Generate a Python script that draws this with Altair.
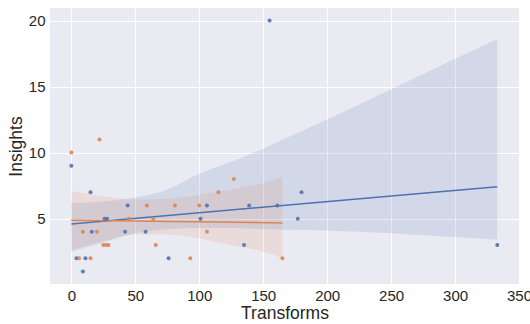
import altair as alt
import pandas as pd

# Scatter data
blue_x = [0, 15, 44, 26, 28, 16, 42, 58, 4, 11, 9, 76, 106, 101, 139, 161, 180, 177, 135, 155, 333]
blue_y = [9, 7, 6, 5, 5, 4, 4, 4, 2, 2, 1, 2, 6, 5, 6, 6, 7, 5, 3, 20, 3]
orange_x = [22, 0, 45, 9, 20, 25, 27, 29, 6, 15, 59, 81, 100, 115, 64, 106, 66, 93, 127, 165]
orange_y = [11, 10, 5, 4, 4, 3, 3, 3, 2, 2, 6, 6, 6, 7, 5, 4, 3, 2, 8, 2]

# Confidence band edges
blue_band_x = [0, 25, 50, 75, 100, 125, 150, 175, 200, 250, 300, 333]
blue_band_lo = [2.5, 3.2, 3.9, 4.2, 4.3, 4.3, 4.2, 4.15, 4.1, 3.9, 3.6, 3.4]
blue_band_hi = [6.2, 6.3, 6.6, 7.2, 8.4, 9.3, 10.3, 11.4, 12.5, 14.8, 17.1, 18.6]
orange_band_x = [0, 25, 50, 75, 100, 125, 150, 165]
orange_band_lo = [2.6, 3.3, 3.8, 3.8, 3.5, 3.0, 2.5, 2.0]
orange_band_hi = [7.1, 6.7, 6.45, 6.5, 6.8, 7.2, 7.7, 8.15]

x_ticks = [0, 50, 100, 150, 200, 250, 300, 350]
y_ticks = [5, 10, 15, 20]

series_names = ["blue", "orange"]
colors = ["#4C72B0", "#DD8452"]

pts = pd.DataFrame({
    "Transforms": blue_x + orange_x,
    "Insights": blue_y + orange_y,
    "s": ["blue"] * len(blue_x) + ["orange"] * len(orange_x),
})
band = pd.DataFrame({
    "Transforms": blue_band_x + orange_band_x,
    "lo": blue_band_lo + orange_band_lo,
    "hi": blue_band_hi + orange_band_hi,
    "s": ["blue"] * len(blue_band_x) + ["orange"] * len(orange_band_x),
})

FONT = "Liberation Sans"
xs = alt.Scale(domain=[-16.7, 350], nice=False, zero=False)
ys = alt.Scale(domain=[0.05, 20.95], nice=False, zero=False)
cs = alt.Scale(domain=series_names, range=colors)

x_axis = alt.Axis(values=x_ticks, title="Transforms", grid=True, gridColor="white", gridWidth=1,
                  domain=False, ticks=False, labelFontSize=15, titleFontSize=17.5,
                  labelColor="#262626", titleColor="#262626", labelFont=FONT, titleFont=FONT,
                  titleFontWeight="normal", labelPadding=4, titlePadding=1,
                  labelFlush=False, labelOverlap=False)
y_axis = alt.Axis(values=y_ticks, title="Insights", grid=True, gridColor="white", gridWidth=1,
                  domain=False, ticks=False, labelFontSize=15, titleFontSize=17.5,
                  labelColor="#262626", titleColor="#262626", labelFont=FONT, titleFont=FONT,
                  titleFontWeight="normal", labelPadding=5, titlePadding=3,
                  labelFlush=False, labelOverlap=False)

bands = alt.Chart(band).mark_area(opacity=0.15, interpolate="monotone").encode(
    x=alt.X("Transforms:Q", scale=xs, axis=x_axis),
    y=alt.Y("lo:Q", scale=ys, axis=y_axis),
    y2="hi:Q",
    color=alt.Color("s:N", scale=cs, legend=None),
    detail="s:N",
)

lines = alt.Chart(pts).transform_regression(
    "Transforms", "Insights", groupby=["s"]
).mark_line(strokeWidth=1.5).encode(
    x=alt.X("Transforms:Q", scale=xs),
    y=alt.Y("Insights:Q", scale=ys),
    color=alt.Color("s:N", scale=cs, legend=None),
)

points = alt.Chart(pts).mark_circle(size=16, opacity=0.9).encode(
    x=alt.X("Transforms:Q", scale=xs),
    y=alt.Y("Insights:Q", scale=ys),
    color=alt.Color("s:N", scale=cs, legend=None),
)

chart = alt.layer(bands, lines, points).properties(
    width=469, height=276,
    autosize=alt.AutoSizeParams(type="none"),
    padding={"left": 50, "top": 8, "right": 11, "bottom": 40},
    background="white",
).configure_view(fill="#EAEAF2", stroke=None)

chart.save("out.html", embed_options={"renderer": "svg", "actions": False})
